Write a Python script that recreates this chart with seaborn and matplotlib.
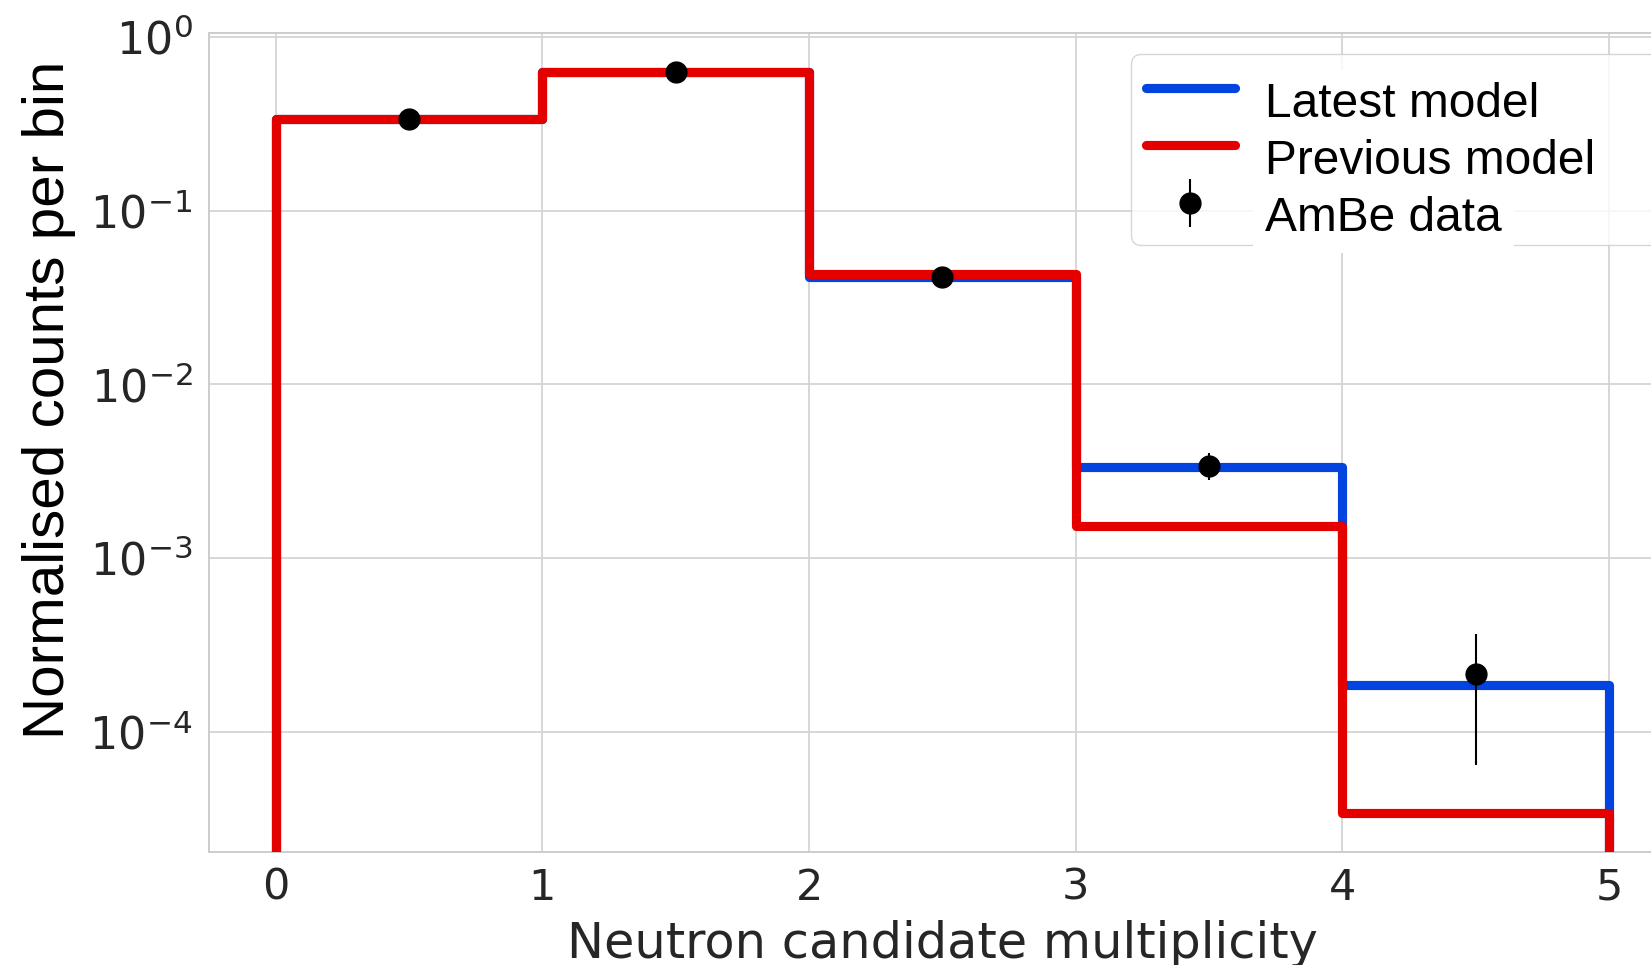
import numpy as np
import matplotlib
matplotlib.use("Agg")
import matplotlib.pyplot as plt
import seaborn as sns
from matplotlib.ticker import NullLocator

# ---- data ----
bin_edges = [0, 1, 2, 3, 4, 5]
latest_model = [0.337, 0.630, 0.0417, 0.00336, 1.87e-4]
previous_model = [0.337, 0.630, 0.0430, 0.00154, 3.41e-5]
data_x = [0.5, 1.5, 2.5, 3.5, 4.5]
data_y = [0.337, 0.625, 0.0417, 0.00341, 2.15e-4]
data_err = [0.003, 0.004, 0.0008, 0.0006, 1.51e-4]
xticks = [0, 1, 2, 3, 4, 5]
yticks = [1e0, 1e-1, 1e-2, 1e-3, 1e-4]
labels = ["Latest model", "Previous model", "AmBe data"]

sns.set_theme(style="whitegrid")
plt.rcParams["font.family"] = ["DejaVu Sans"]
plt.rcParams["mathtext.fontset"] = "dejavusans"
plt.rcParams["axes.edgecolor"] = ".8"
plt.rcParams["grid.color"] = ".83"
plt.rcParams["grid.linewidth"] = 1.3
plt.rcParams["axes.linewidth"] = 1.4

fig = plt.figure(figsize=(16.51, 9.65), dpi=100)
ax = fig.add_axes([0.1266, 0.1174, 0.8884, 0.8481])
ax.set_yscale("log")

blue = "#0343df"
red = "#e50000"
ax.stairs(latest_model, bin_edges, baseline=0, fill=False, color=blue,
          linewidth=6.6, joinstyle="round", label=labels[0], zorder=3)
ax.stairs(previous_model, bin_edges, baseline=0, fill=False, color=red,
          linewidth=6.6, joinstyle="round", label=labels[1], zorder=4)
ax.errorbar(data_x, data_y, yerr=data_err, fmt="o", color="black",
            markersize=15, elinewidth=1.5, capsize=0, label=labels[2], zorder=5)

ax.set_xlim(-0.25, 5.25)
ax.set_ylim(2.04e-5, 1.05)
ax.set_xticks(xticks)
ax.set_yticks(yticks)
ax.yaxis.set_minor_locator(NullLocator())
ax.tick_params(axis="both", length=0, labelcolor=".15")
ax.tick_params(axis="x", pad=10.7, labelsize=31)
ax.tick_params(axis="y", pad=12, labelsize=32)
for s in ax.spines.values():
    s.set_color(".8")

ax.set_xlabel("Neutron candidate multiplicity", fontsize=35.6, color=".15")
ax.xaxis.set_label_coords(0.5, -0.083)

fig.text(0.0298, 0.5855, "Normalised counts per bin", rotation=90,
         ha="center", va="center", fontsize=42, color="black",
         family=["Liberation Sans", "DejaVu Sans"])

leg = ax.legend(loc="upper left", bbox_to_anchor=(0.6286, 0.5, 0.40, 0.4744),
                mode="expand", borderaxespad=0,
                prop={"family": ["Liberation Sans"], "size": 34.5},
                frameon=True, framealpha=0.8, edgecolor=".8", fancybox=True,
                handlelength=1.84, handletextpad=0.64, borderpad=0.32,
                labelspacing=0.26)
leg.get_frame().set_linewidth(1.0)
for t in leg.get_texts():
    t.set_color("black")
    t.set_y(-12)
    t.set_bbox(dict(boxstyle="square,pad=0.25", facecolor="white",
                    edgecolor="none"))

fig.savefig("out.png", dpi=100)
